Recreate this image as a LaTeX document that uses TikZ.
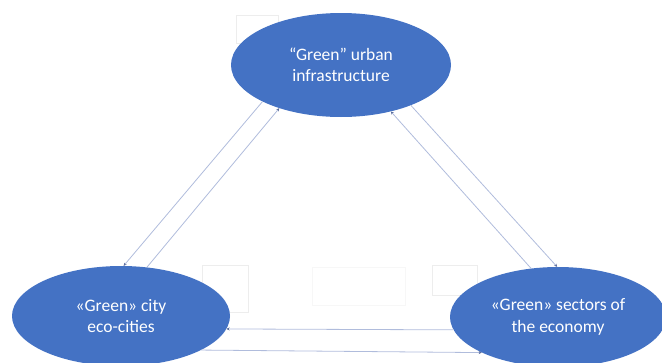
\documentclass[tikz,border=0pt]{standalone}
\usepackage{fontspec}
\setmainfont{Carlito}
\usetikzlibrary{shapes.geometric,arrows.meta}
\definecolor{ovalblue}{HTML}{4472C4}
\definecolor{linkblue}{HTML}{B0BCDC}
\definecolor{tipblue}{HTML}{5A6C9C}

\begin{document}
\begin{tikzpicture}[x=1pt,y=-1pt,
    oval/.style={ellipse,fill=ovalblue,text=white,align=center,inner sep=0pt,
      font=\fontsize{17.5}{21.5}\selectfont},
    link/.style={linkblue,line width=0.8pt,-{Stealth[length=3pt,width=3pt,color=tipblue]}},
    ghost/.style={draw=black!7,line width=0.6pt}]
    \useasboundingbox (0,0) rectangle (662,362);
    % faint leftover boxes
    \draw[ghost] (236,15) rectangle (278,43);
    \draw[ghost] (202,265) rectangle (248,312);
    \draw[ghost] (432,265) rectangle (477,295);
    \draw[black!3] (312,267) rectangle (405,305);
    \node[oval,minimum width=220,minimum height=104] (urban) at (341,65) {``Green'' urban\\infrastructure};
    \node[oval,minimum width=218,minimum height=100] (city) at (121,316) {«Green» city\\eco-cities};
    \node[oval,minimum width=216,minimum height=100] (sectors) at (558,317) {«Green» sectors of\\the economy};
    \draw[link] (urban.205) -- (city.87);
    \draw[link] (city.62) -- (urban.215);
    \draw[link] (sectors.119) -- (urban.317);
    \draw[link] (urban.330) -- (sectors.91);
    \draw[link] (sectors.187) -- (city.353);
    \draw[link] (city.337) -- (sectors.205);
\end{tikzpicture}
\end{document}
